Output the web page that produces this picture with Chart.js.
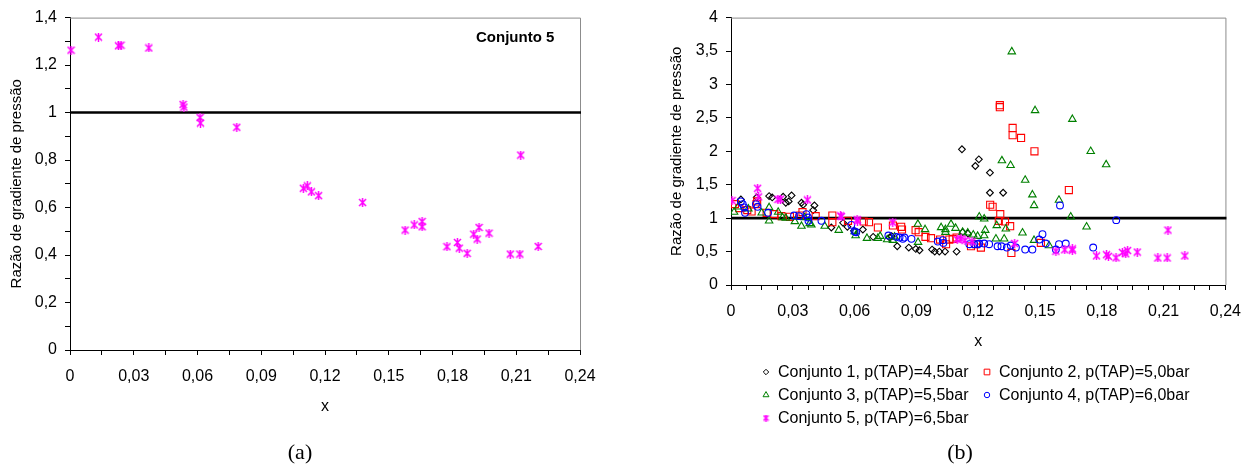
<!DOCTYPE html>
<html lang="pt">
<head>
<meta charset="utf-8">
<title>Razão de gradiente de pressão</title>
<script src="https://cdn.jsdelivr.net/npm/chart.js@4.4.1/dist/chart.umd.min.js"></script>
<style>
  body { margin: 0; background: #fff; width: 1253px; height: 468px; position: relative; overflow: hidden;
         font-family: "Liberation Sans", Arial, sans-serif; }
  .painel { position: absolute; top: 0; height: 468px; }
  #painelA { left: 0; width: 620px; }
  #painelB { left: 630px; width: 623px; }
  .rotulo { position: absolute; top: 452px; transform: translate(-50%, -50%);
            font-family: "Liberation Serif", "Times New Roman", serif; font-size: 22px; color: #000; }
</style>
</head>
<body>
<div class="painel" id="painelA"><canvas id="graficoA" width="620" height="468"></canvas></div>
<div class="painel" id="painelB"><canvas id="graficoB" width="623" height="468"></canvas></div>
<div class="rotulo" style="left:300px">(a)</div>
<div class="rotulo" style="left:960px">(b)</div>

<script>
// ------------------------------------------
// Dados: [x, razão de gradiente de pressão]
// ------------------------------------------

const conjunto1 = [
  [0.0048, 1.28], [0.0125, 1.31], [0.0185, 1.33], [0.0200, 1.31], [0.0253, 1.32], [0.0266, 1.23],
  [0.0280, 1.25], [0.0294, 1.34], [0.0342, 1.23], [0.0350, 1.20], [0.0405, 1.19], [0.0399, 1.12],
  [0.0487, 0.86], [0.0544, 0.93], [0.0565, 0.87], [0.0597, 0.81], [0.0640, 0.83], [0.0690, 0.72],
  [0.0770, 0.71], [0.0780, 0.73], [0.0807, 0.58], [0.0863, 0.56], [0.0897, 0.54], [0.0915, 0.52],
  [0.0976, 0.53], [0.0989, 0.50], [0.1011, 0.50], [0.1039, 0.50], [0.1095, 0.50], [0.1125, 0.79],
  [0.1150, 0.77], [0.1121, 2.03], [0.1186, 1.78], [0.1203, 1.88], [0.1257, 1.68], [0.1257, 1.38],
  [0.1321, 1.38]
];

const conjunto2 = [
  [0.0019, 1.21], [0.0040, 1.15], [0.0079, 1.12], [0.0100, 1.10], [0.0124, 1.21], [0.0127, 1.25],
  [0.0173, 1.08], [0.0210, 1.06], [0.0245, 1.03], [0.0286, 1.02], [0.0334, 1.04], [0.0347, 1.09],
  [0.0411, 1.03], [0.0492, 1.04], [0.0492, 0.94], [0.0568, 0.96], [0.0644, 0.95], [0.0670, 0.94],
  [0.0713, 0.86], [0.0786, 0.89], [0.0826, 0.87], [0.0830, 0.83], [0.0896, 0.82], [0.0911, 0.79],
  [0.0944, 0.72], [0.0971, 0.70], [0.1015, 0.68], [0.1044, 0.61], [0.1060, 0.68], [0.1076, 0.69],
  [0.1095, 0.71], [0.1165, 0.58], [0.1190, 0.61], [0.1213, 0.56], [0.1258, 1.20], [0.1270, 1.17],
  [0.1307, 1.06], [0.1300, 0.96], [0.1330, 0.95], [0.1355, 0.88], [0.1361, 0.48], [0.1305, 2.69],
  [0.1305, 2.66], [0.1367, 2.35], [0.1367, 2.24], [0.1408, 2.20], [0.1473, 2.00], [0.1504, 0.63],
  [0.1640, 1.42]
];

const conjunto3 = [
  [0.0015, 1.09], [0.0035, 1.17], [0.0084, 1.14], [0.0149, 1.08], [0.0185, 1.16], [0.0185, 0.96],
  [0.0229, 1.09], [0.0250, 1.01], [0.0266, 1.00], [0.0310, 0.95], [0.0342, 0.88], [0.0358, 1.01],
  [0.0382, 0.92], [0.0390, 0.90], [0.0455, 0.88], [0.0523, 0.82], [0.0600, 0.80], [0.0605, 0.74],
  [0.0660, 0.70], [0.0713, 0.70], [0.0724, 0.73], [0.0758, 0.68], [0.0786, 0.67], [0.0794, 0.72],
  [0.0907, 0.91], [0.0908, 0.64], [0.0942, 0.83], [0.1020, 0.86], [0.1041, 0.83], [0.1041, 0.79],
  [0.1068, 0.91], [0.1090, 0.85], [0.1124, 0.79], [0.1149, 0.78], [0.1176, 0.75], [0.1197, 0.73],
  [0.1205, 1.02], [0.1229, 0.99], [0.1234, 0.82], [0.1229, 0.74], [0.1290, 0.89], [0.1334, 0.84],
  [0.1286, 0.69], [0.1326, 0.69], [0.1415, 0.78], [0.1471, 0.67], [0.1544, 0.59], [0.1315, 1.86],
  [0.1357, 1.79], [0.1363, 3.49], [0.1428, 1.57], [0.1463, 1.35], [0.1471, 1.19], [0.1476, 2.61],
  [0.1592, 1.27], [0.1649, 1.02], [0.1657, 2.48], [0.1726, 0.87], [0.1746, 2.00], [0.1821, 1.80]
];

const conjunto4 = [
  [0.0048, 1.25], [0.0057, 1.21], [0.0064, 1.16], [0.0068, 1.08], [0.0121, 1.21], [0.0129, 1.17],
  [0.0180, 1.08], [0.0306, 1.04], [0.0330, 1.03], [0.0366, 1.06], [0.0374, 1.01], [0.0376, 0.96],
  [0.0439, 0.96], [0.0584, 0.90], [0.0600, 0.80], [0.0608, 0.79], [0.0764, 0.74], [0.0802, 0.72],
  [0.0818, 0.71], [0.0834, 0.69], [0.0842, 0.71], [0.0876, 0.69], [0.1004, 0.65], [0.1028, 0.67],
  [0.1031, 0.63], [0.1157, 0.61], [0.1181, 0.61], [0.1197, 0.61], [0.1205, 0.62], [0.1229, 0.62],
  [0.1253, 0.61], [0.1294, 0.58], [0.1313, 0.58], [0.1339, 0.56], [0.1358, 0.59], [0.1383, 0.56],
  [0.1428, 0.53], [0.1463, 0.53], [0.1496, 0.68], [0.1512, 0.76], [0.1528, 0.62], [0.1577, 0.53],
  [0.1592, 0.61], [0.1625, 0.62], [0.1597, 1.19], [0.1758, 0.56], [0.1870, 0.97]
];

const conjunto5 = [
  [0.0005, 1.263], [0.0129, 1.447], [0.0134, 1.318], [0.0228, 1.281], [0.0240, 1.284], [0.0371, 1.272],
  [0.0532, 1.034], [0.0536, 1.023], [0.0612, 0.979], [0.0614, 0.956], [0.0785, 0.938], [0.1098, 0.681],
  [0.1117, 0.691], [0.1136, 0.666], [0.1170, 0.650], [0.1377, 0.621], [0.1577, 0.505], [0.1620, 0.527],
  [0.1657, 0.541], [0.1657, 0.519], [0.1774, 0.435], [0.1823, 0.453], [0.1832, 0.429], [0.1869, 0.407],
  [0.1900, 0.488], [0.1916, 0.467], [0.1925, 0.516], [0.1972, 0.492], [0.2072, 0.404], [0.2117, 0.404],
  [0.2121, 0.821], [0.2203, 0.436]
];

const nomes = [
  "Conjunto 1, p(TAP)=4,5bar",
  "Conjunto 2, p(TAP)=5,0bar",
  "Conjunto 3, p(TAP)=5,5bar",
  "Conjunto 4, p(TAP)=6,0bar",
  "Conjunto 5, p(TAP)=6,5bar"
];

const tituloY = "Razão de gradiente de pressão";
const FONTE = '"Liberation Sans", Arial, sans-serif';

// ------------------------------------------
// Utilidades
// ------------------------------------------

const pontos = lista => lista.map(([x, y]) => ({ x, y }));
const multiplo = (v, p) => Math.abs(v / p - Math.round(v / p)) < 1e-6;
const virgula = v => String(+v.toFixed(2)).replace(".", ",");

// marcador "asterisco" (X com traço vertical)
function estrela(cor, lado) {
  const c = document.createElement("canvas");
  c.width = lado; c.height = lado;
  const g = c.getContext("2d");
  const m = lado / 2;
  g.strokeStyle = cor;
  g.lineWidth = 1.5;
  g.beginPath();
  g.moveTo(1, 1); g.lineTo(lado - 1, lado - 1);
  g.moveTo(lado - 1, 1); g.lineTo(1, lado - 1);
  g.moveTo(m, 0); g.lineTo(m, lado);
  g.stroke();
  return c;
}
const estrelaMagenta = estrela("#ff00ff", 9);
const estrelaLegenda = estrela("#ff00ff", 7);

function serie(i, dados, cor, estilo, raio, ordem) {
  return {
    label: nomes[i],
    data: pontos(dados),
    pointStyle: estilo,
    pointRadius: raio,
    pointHoverRadius: raio,
    pointBorderWidth: 1.1,
    borderColor: cor,
    backgroundColor: "rgba(0,0,0,0)",
    order: ordem
  };
}

// moldura cinza (topo e direita) + linha de referência em 1
const moldura = {
  id: "moldura",
  beforeDatasetsDraw(chart) {
    const { ctx, chartArea: a, scales } = chart;
    ctx.save();
    ctx.strokeStyle = "#8c8c8c";
    ctx.lineWidth = 1;
    ctx.beginPath();
    ctx.moveTo(a.left, a.top + 0.5);
    ctx.lineTo(a.right + 0.5, a.top + 0.5);
    ctx.lineTo(a.right + 0.5, a.bottom);
    ctx.stroke();

    const y1 = scales.y.getPixelForValue(1);
    ctx.strokeStyle = "#000";
    ctx.lineWidth = 2.6;
    ctx.beginPath();
    ctx.moveTo(a.left, y1);
    ctx.lineTo(a.right + 1, y1);
    ctx.stroke();
    ctx.restore();
  }
};

function eixoX(passo) {
  return {
    type: "linear",
    min: 0,
    max: 0.24,
    border: { color: "#000", width: 1 },
    grid: { drawOnChartArea: false, drawTicks: true, tickLength: 5, color: "#000" },
    ticks: {
      stepSize: passo, autoSkip: false, maxRotation: 0, padding: 12, color: "#000",
      font: { family: FONTE, size: 16 },
      callback: v => multiplo(v, 0.03) ? virgula(v) : ""
    },
    title: { display: true, text: "x", color: "#000", font: { family: FONTE, size: 16 }, padding: { top: 0, bottom: 4 } },
    afterFit: s => { s.height = 70; }
  };
}

function eixoY(max, passo, rotulo, largura, recuo) {
  return {
    type: "linear",
    min: 0,
    max: max,
    border: { color: "#000", width: 1 },
    grid: { drawOnChartArea: false, drawTicks: true, tickLength: 5, color: "#000" },
    ticks: {
      stepSize: passo, autoSkip: false, padding: 8, color: "#000",
      font: { family: FONTE, size: 16 },
      callback: v => multiplo(v, rotulo) ? virgula(v) : ""
    },
    title: { display: true, text: tituloY, color: "#000", font: { family: FONTE, size: 15 }, padding: { top: recuo, bottom: 0 } },
    afterFit: s => { s.width = largura; }
  };
}

const base = {
  responsive: false,
  devicePixelRatio: 1,
  animation: false,
  events: [],
  plugins: { legend: { display: false }, tooltip: { enabled: false } }
};

// ------------------------------------------
// GRÁFICO (a) - Conjunto 5
// ------------------------------------------

const destaque = {
  id: "destaque",
  afterDraw(chart) {
    const { ctx, chartArea: a } = chart;
    ctx.save();
    ctx.font = "bold 15px " + FONTE;
    ctx.fillStyle = "#000";
    ctx.textBaseline = "middle";
    ctx.fillText("Conjunto 5", a.right - 104, a.top + 20);
    ctx.restore();
  }
};

const serieA = serie(4, conjunto5, "#ff00ff", estrelaMagenta, 4, 1);
serieA.clip = { left: 10, top: 0, right: 10, bottom: 10 };

new Chart(document.getElementById("graficoA"), {
  type: "scatter",
  data: { datasets: [serieA] },
  options: {
    ...base,
    layout: { padding: { top: 16, right: 40, bottom: 48, left: 0 } },
    scales: {
      x: eixoX(0.015),
      y: eixoY(1.4, 0.1, 0.2, 70, 8)
    }
  },
  plugins: [moldura, destaque]
});

// ------------------------------------------
// GRÁFICO (b) - todos os conjuntos
// ------------------------------------------

const legendaB = {
  id: "legendaB",
  afterDraw(chart) {
    const { ctx } = chart;
    const lugares = [[136, 372], [357, 372], [136, 395], [357, 395], [136, 418]];
    ctx.save();
    ctx.font = "16px " + FONTE;
    ctx.textBaseline = "middle";
    chart.data.datasets.forEach((ds, i) => {
      const [x, y] = lugares[i];
      const estilo = ds.pointStyle === estrelaMagenta ? estrelaLegenda : ds.pointStyle;
      ctx.strokeStyle = ds.borderColor;
      ctx.fillStyle = "rgba(0,0,0,0)";
      ctx.lineWidth = 1;
      Chart.helpers.drawPoint(ctx, {
        pointStyle: estilo,
        radius: ds.pointRadius * 0.8,
        borderWidth: 1,
        rotation: 0
      }, x, y);
      ctx.fillStyle = "#000";
      ctx.fillText(ds.label, x + 12, y + 1);
    });
    ctx.restore();
  }
};

new Chart(document.getElementById("graficoB"), {
  type: "scatter",
  data: {
    datasets: [
      serie(0, conjunto1, "#000000", "rectRot", 3.4, 5),
      serie(1, conjunto2, "#ff0000", "rect", 5, 4),
      serie(2, conjunto3, "#008000", "triangle", 4.3, 3),
      serie(3, conjunto4, "#0000ff", "circle", 3.4, 2),
      serie(4, conjunto5, "#ff00ff", estrelaMagenta, 4, 1)
    ]
  },
  options: {
    ...base,
    layout: { padding: { top: 15, right: 26, bottom: 113, left: 0 } },
    scales: {
      x: eixoX(0.0075),
      y: eixoY(4, 0.5, 0.5, 101, 38)
    }
  },
  plugins: [moldura, legendaB]
});
</script>
</body>
</html>
